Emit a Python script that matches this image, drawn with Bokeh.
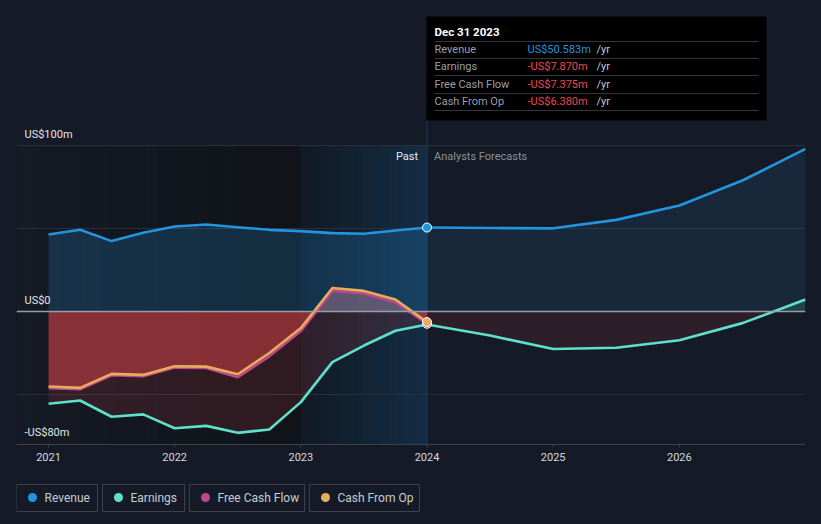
import numpy as np
from bokeh.plotting import figure
from bokeh.models import Range1d, FixedTicker, Span, NumeralTickFormatter
from bokeh.layouts import column
from bokeh.embed import file_html
from bokeh.resources import INLINE
from bokeh.core.properties import value

# ---------------- data (US$ millions) ----------------
past_x = [2021.0, 2021.25, 2021.5, 2021.75, 2022.0, 2022.25, 2022.5, 2022.75,
          2023.0, 2023.25, 2023.5, 2023.75, 2024.0]
revenue_past = [46.4, 49.2, 42.4, 47.4, 51.2, 52.4, 50.8, 49.2, 48.4, 47.2, 46.8, 48.8, 50.583]
earnings_past = [-55.6, -53.6, -63.4, -62.0, -70.3, -68.9, -73.1, -71.1, -54.6, -30.5, -20.5, -11.6, -7.870]
fcf_past = [-46.2, -46.8, -38.4, -39.0, -33.8, -34.0, -39.6, -27.0, -11.8, 12.6, 10.8, 5.6, -7.375]
cfo_past = [-45.2, -46.0, -37.6, -38.2, -33.0, -33.2, -37.8, -25.0, -10.0, 14.2, 12.4, 7.2, -6.380]

fc_x = [2024.0, 2024.5, 2025.0, 2025.5, 2026.0, 2026.5, 2027.0]
revenue_fc = [50.583, 50.3, 50.1, 55.2, 63.9, 78.9, 98.0]
earnings_fc = [-7.870, -14.5, -22.6, -21.8, -17.3, -7.0, 7.2]

year_ticks = [2021, 2022, 2023, 2024, 2025, 2026]
y_label_ticks = [100, 0, -80]
y_label_texts = ["US$100m", "US$0", "-US$80m"]
grid_ticks = [100, 50, -50]

series_names = ["Revenue", "Earnings", "Free Cash Flow", "Cash From Op"]
series_colors = ["#2394df", "#5fe0cb", "#c2468a", "#e6ad5e"]
tooltip_date = "Dec 31 2023"

FONT = value("Roboto")
BG = "#151b26"

# ---------------- frame geometry ----------------
W, H = 821, 470
LEFT, RIGHT, TOP, BOTTOM = 16, 16, 0, 26
X0, X1 = 2020.746, 2027.0
Y0, Y1 = -80.12, 187.35
FW, FH = W - LEFT - RIGHT, H - TOP - BOTTOM


def dx(px):
    return X0 + (px - LEFT) / FW * (X1 - X0)


def dy(py):
    return Y1 - (py - TOP) / FH * (Y1 - Y0)


def split_zero(xs, ys):
    ox, oy = [xs[0]], [ys[0]]
    for i in range(1, len(xs)):
        a, b = ys[i - 1], ys[i]
        if a * b < 0:
            t = a / (a - b)
            ox.append(xs[i - 1] + t * (xs[i] - xs[i - 1]))
            oy.append(0.0)
        ox.append(xs[i])
        oy.append(b)
    return np.array(ox), np.array(oy)


def mix(c1, c2, t):
    a = [int(c1[i:i + 2], 16) for i in (1, 3, 5)]
    b = [int(c2[i:i + 2], 16) for i in (1, 3, 5)]
    return "#%02x%02x%02x" % tuple(int(round(a[k] + (b[k] - a[k]) * t)) for k in range(3))


p = figure(width=W, height=H, x_range=Range1d(X0, X1), y_range=Range1d(Y0, Y1),
           output_backend="svg", toolbar_location=None, tools="", y_axis_location=None,
           min_border_left=LEFT, min_border_right=RIGHT, min_border_top=TOP,
           min_border_bottom=BOTTOM, background_fill_color=BG, border_fill_color=BG,
           outline_line_color=None)

# background bands (dark past, highlighted last year)
n = 40
edges = np.linspace(X0, 2023.0, n + 1)
p.quad(left=edges[:-1], right=edges[1:] + 0.002, bottom=Y0, top=100,
       fill_color=[mix("#151a24", "#101319", i / (n - 1)) for i in range(n)],
       line_color=None, level="image")
edges = np.linspace(2023.0, 2024.0, n + 1)
p.quad(left=edges[:-1], right=edges[1:] + 0.002, bottom=Y0, top=100,
       fill_color=[mix("#111a25", "#142d45", i / (n - 1)) for i in range(n)],
       line_color=None, level="image")

# axes / grid
p.xgrid.visible = False
p.ygrid.ticker = FixedTicker(ticks=grid_ticks)
p.ygrid.grid_line_color = "#2a303a"
p.ygrid.grid_line_width = 1
xa = p.xaxis[0]
xa.ticker = FixedTicker(ticks=year_ticks)
xa.formatter = NumeralTickFormatter(format="0")
xa.axis_line_color = "#3a3f48"
xa.major_tick_line_color = "#3a3f48"
xa.major_tick_out = 3
xa.major_tick_in = 0
xa.minor_tick_line_color = None
xa.major_label_text_color = "#d5d8dd"
xa.major_label_text_font = "Roboto"
xa.major_label_text_font_size = "11px"
xa.major_label_standoff = 5

# vertical "now" line
p.segment(x0=[past_x[-1]], y0=[Y0], x1=[past_x[-1]], y1=[dy(120)],
          line_color="#1b3a56", line_width=1)

# areas
p.varea(x=past_x, y1=0, y2=revenue_past, fill_color="#2394df", fill_alpha=0.2)
p.varea(x=fc_x, y1=0, y2=revenue_fc, fill_color="#2394df", fill_alpha=0.11)

p.varea(x=past_x, y1=0, y2=earnings_past, fill_color="#e0454a", fill_alpha=0.15)
ex, ey = split_zero(fc_x, earnings_fc)
p.varea(x=ex, y1=0, y2=np.minimum(ey, 0), fill_color="#e0454a", fill_alpha=0.12)
p.varea(x=ex, y1=0, y2=np.maximum(ey, 0), fill_color="#5fe0cb", fill_alpha=0.15)

cx, cy = split_zero(past_x, cfo_past)
p.varea(x=cx, y1=0, y2=np.minimum(cy, 0), fill_color="#e0434a", fill_alpha=0.5)
p.varea(x=cx, y1=0, y2=np.maximum(cy, 0), fill_color="#d48aa0", fill_alpha=0.38)

# zero line
p.add_layout(Span(location=0, dimension="width", line_color="#9a9da3", line_width=1.5))

# lines
lw = 2.6
p.line(past_x, revenue_past, line_color=series_colors[0], line_width=lw, line_join="round")
p.line(fc_x, revenue_fc, line_color=series_colors[0], line_width=lw, line_join="round")
p.line(past_x, earnings_past, line_color=series_colors[1], line_width=lw, line_join="round")
p.line(fc_x, earnings_fc, line_color=series_colors[1], line_width=lw, line_join="round")
p.line(past_x, fcf_past, line_color=series_colors[2], line_width=lw, line_join="round")
p.line(past_x, cfo_past, line_color=series_colors[3], line_width=lw, line_join="round")

# markers at latest reported point
p.scatter(x=[past_x[-1]] * 3, y=[revenue_past[-1], fcf_past[-1], cfo_past[-1]], size=9,
          fill_color=[series_colors[0], series_colors[2], series_colors[3]],
          line_color="white", line_width=1)

# y labels
p.text(x=[dx(24)] * 3, y=y_label_ticks, text=y_label_texts, text_font=FONT,
       text_font_size="11px", text_color="#e2e5ea", text_align="left",
       text_baseline="bottom", y_offset=-5)

# past / forecast labels
p.text(x=[past_x[-1]], y=[dy(156)], text=["Past"], text_font=FONT, text_font_size="11px",
       text_color="#e6e8ec", text_align="right", text_baseline="middle", x_offset=-9)
p.text(x=[past_x[-1]], y=[dy(156)], text=["Analysts Forecasts"], text_font=FONT,
       text_font_size="11px", text_color="#8c9198", text_align="left",
       text_baseline="middle", x_offset=7)

# tooltip box
p.quad(left=[dx(426)], right=[dx(766)], top=[dy(16)], bottom=[dy(120)],
       fill_color="#000000", line_color=None)
sep_y = [dy(v) for v in (41, 58, 75, 93, 110)]
p.segment(x0=[dx(434)] * 5, x1=[dx(758)] * 5, y0=sep_y, y1=sep_y,
          line_color="#33363c", line_width=1)
p.text(x=[dx(434)], y=[dy(31)], text=[tooltip_date], text_font=FONT,
       text_font_size="11.5px", text_color="#ffffff", text_font_style="bold",
       text_baseline="middle")
row_y = [dy(v) for v in (49, 66, 84, 101)]
last_vals = [revenue_past[-1], earnings_past[-1], fcf_past[-1], cfo_past[-1]]
val_txt = [("-" if v < 0 else "") + "US$%.3fm" % abs(v) for v in last_vals]
val_col = [series_colors[0] if v >= 0 else "#f0484b" for v in last_vals]
p.text(x=[dx(434)] * 4, y=row_y, text=series_names, text_font=FONT, text_font_size="11px",
       text_color="#999ea6", text_baseline="middle")
p.text(x=[dx(527)] * 4, y=row_y, text=val_txt, text_font=FONT, text_font_size="11px",
       text_color=val_col, text_baseline="middle")
p.text(x=[dx(596)] * 4, y=row_y, text=["/yr"] * 4, text_font=FONT,
       text_font_size="11px", text_color="#c4c8ce", text_baseline="middle")

# ---------------- legend strip (frame aligned with main frame: data x == page px) ----------------
lg = figure(width=W, height=54, x_range=Range1d(LEFT, W - RIGHT), y_range=Range1d(54, 0),
            output_backend="svg", toolbar_location=None, tools="",
            min_border_left=LEFT, min_border_right=RIGHT, min_border_top=0, min_border_bottom=0,
            x_axis_location=None, y_axis_location=None,
            background_fill_color=BG, border_fill_color=BG, outline_line_color=None)
lg.grid.visible = False
box_l = [16, 102, 189, 309]
box_r = [97, 184, 304, 419]
lg.quad(left=box_l, right=box_r, top=14, bottom=41, fill_color=None,
        line_color="#3c414b", line_width=1)
lg.scatter(x=[b + 16 for b in box_l], y=[27] * 4, size=9, fill_color=series_colors,
           line_color=None)
lg.text(x=[b + 28 for b in box_l], y=[27] * 4, text=series_names, text_font=FONT,
        text_font_size="12px", text_color="#c8ccd2", text_baseline="middle")

layout = column(p, lg, spacing=0)
html = file_html(layout, INLINE)
html = html.replace("</head>", "<style>html,body{margin:0;padding:0;background:%s;}</style></head>" % BG, 1)
open("out.html", "w").write(html)
